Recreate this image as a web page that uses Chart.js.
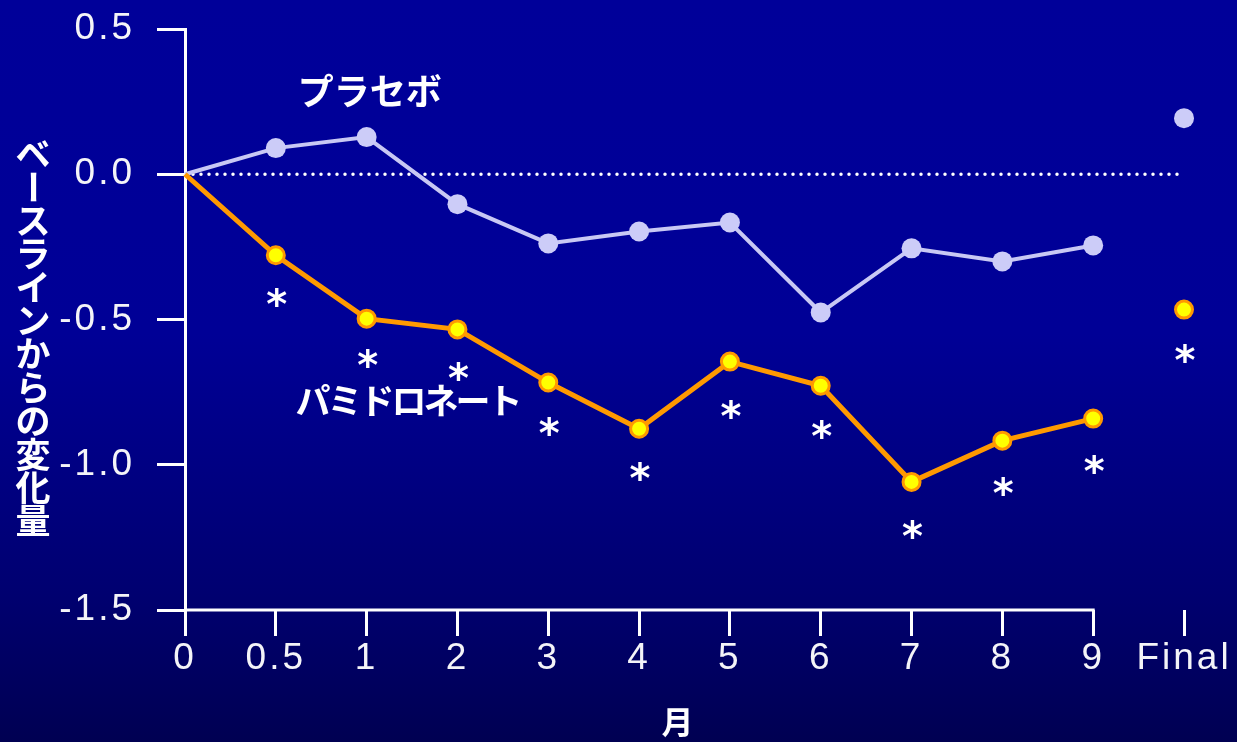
<!DOCTYPE html>
<html>
<head>
<meta charset="utf-8">
<script src="https://cdn.jsdelivr.net/npm/chart.js@4"></script>
<style>
  html, body { margin: 0; padding: 0; }
  #wrap {
    width: 1237px;
    height: 742px;
    position: relative;
    background: linear-gradient(to bottom, #000099 0%, #000096 45%, #000070 80%, #000052 100%);
  }
</style>
</head>
<body>
<div id="wrap"><canvas id="change"></canvas></div>
<script>
(function () {
  'use strict';

  // months on the x axis, 'Final' is the last visit
  const months = ['0', '0.5', '1', '2', '3', '4', '5', '6', '7', '8', '9', 'Final'];

  // change from baseline
  const placebo = [0, 0.09, 0.128, -0.103, -0.238, -0.197, -0.166, -0.476, -0.255, -0.3, -0.245, 0.193];
  const pamidronate = [0, -0.279, -0.497, -0.534, -0.717, -0.876, -0.645, -0.728, -1.059, -0.917, -0.841, -0.466];

  // where the significance marks sit (null = no mark)
  const starLevels = [null, -0.424, -0.634, -0.676, -0.866, -1.021, -0.807, -0.876, -1.221, -1.072, -0.997, -0.614];

  const yTitle = 'ベースラインからの変化量';
  const xTitle = '月';
  const seriesNames = ['プラセボ', 'パミドロネート'];
  // label anchors, in data units: [month index, value]
  const nameSpots = [[2.05, 0.29], [2.45, -0.778]];

  const jp = '"Noto Sans CJK JP", sans-serif';
  const num = '"Liberation Sans", Arial, sans-serif';
  const lastIdx = months.length - 1;

  // text centred on its ink box
  function inkText(ctx, text, x, y) {
    const m = ctx.measureText(text);
    const w = m.actualBoundingBoxRight + m.actualBoundingBoxLeft;
    const h = m.actualBoundingBoxAscent + m.actualBoundingBoxDescent;
    ctx.fillText(text, x - w / 2 + m.actualBoundingBoxLeft, y - h / 2 + m.actualBoundingBoxAscent);
  }

  const decorations = {
    id: 'decorations',
    beforeDraw(chart) {
      // wide tracking for the tick labels
      chart.ctx.letterSpacing = '3px';
    },
    beforeDatasetsDraw(chart) {
      const ctx = chart.ctx;
      const x = chart.scales.x;
      const y = chart.scales.y;
      const y0 = y.getPixelForValue(0);

      ctx.save();
      // dotted zero line
      ctx.strokeStyle = '#ffffff';
      ctx.lineWidth = 3.5;
      ctx.lineCap = 'round';
      ctx.setLineDash([0, 8]);
      ctx.beginPath();
      ctx.moveTo(chart.chartArea.left, y0);
      ctx.lineTo(chart.chartArea.right, y0);
      ctx.stroke();
      ctx.setLineDash([]);

      // x axis line runs only to month 9
      ctx.lineWidth = 3;
      ctx.lineCap = 'butt';
      ctx.beginPath();
      ctx.moveTo(chart.chartArea.left, chart.chartArea.bottom);
      ctx.lineTo(x.getPixelForValue(lastIdx - 1) + 1.5, chart.chartArea.bottom);
      ctx.stroke();
      ctx.restore();
    },
    afterDraw(chart) {
      const ctx = chart.ctx;
      const x = chart.scales.x;
      const y = chart.scales.y;
      const colW = x.getPixelForValue(1) - x.getPixelForValue(0);

      ctx.save();
      ctx.letterSpacing = '0px';
      ctx.fillStyle = '#ffffff';

      // significance marks
      ctx.font = 'bold 40px "DejaVu Sans", sans-serif';
      starLevels.forEach((v, i) => {
        if (v === null) return;
        inkText(ctx, '*', x.getPixelForValue(i) + 1, y.getPixelForValue(v));
      });

      // series names
      ctx.font = 'bold 36px ' + jp;
      inkText(ctx, seriesNames[0], x.getPixelForValue(0) + nameSpots[0][0] * colW, y.getPixelForValue(nameSpots[0][1]));
      ctx.font = 'bold 35px ' + jp;
      ctx.letterSpacing = '-3px';
      inkText(ctx, seriesNames[1], x.getPixelForValue(0) + nameSpots[1][0] * colW, y.getPixelForValue(nameSpots[1][1]));
      ctx.letterSpacing = '0px';

      // stacked vertical axis title
      ctx.font = 'bold 35px ' + jp;
      ctx.textAlign = 'center';
      ctx.textBaseline = 'middle';
      const step = 33.4;
      const top = 137;
      Array.from(yTitle).forEach((ch, i) => {
        const cy = top + step * (i + 0.5);
        if (ch === 'ー') {
          ctx.save();
          ctx.translate(33, cy);
          ctx.rotate(Math.PI / 2);
          ctx.fillText(ch, 0, 0);
          ctx.restore();
        } else {
          ctx.fillText(ch, 33, cy);
        }
      });

      // x axis title
      ctx.font = 'bold 32px ' + jp;
      inkText(ctx, xTitle, 675, 723);
      ctx.restore();
    }
  };

  window.onload = function () {
    const ctx = document.getElementById('change').getContext('2d');

    window.changeChart = new Chart(ctx, {
      type: 'line',
      data: {
        labels: months,
        datasets: [
          {
            label: seriesNames[0],
            data: placebo,
            borderColor: '#c8c8f4',
            borderWidth: 4,
            backgroundColor: '#ccccf8',
            pointBackgroundColor: '#ccccf8',
            pointBorderWidth: 0,
            pointRadius: (c) => (c.dataIndex === 0 ? 0 : 10),
            tension: 0,
            segment: {
              borderColor: (c) => (c.p1DataIndex === lastIdx ? 'transparent' : undefined)
            },
            order: 2
          },
          {
            label: seriesNames[1],
            data: pamidronate,
            borderColor: '#ff9900',
            borderWidth: 5,
            backgroundColor: '#ffff00',
            pointBackgroundColor: '#ffff00',
            pointBorderColor: '#ff9900',
            pointBorderWidth: 3,
            pointRadius: (c) => (c.dataIndex === 0 ? 0 : 8.5),
            tension: 0,
            segment: {
              borderColor: (c) => (c.p1DataIndex === lastIdx ? 'transparent' : undefined)
            },
            order: 1
          }
        ]
      },
      options: {
        responsive: true,
        maintainAspectRatio: false,
        animation: false,
        layout: { padding: { top: 29, right: 53, bottom: 0, left: 0 } },
        plugins: {
          legend: { display: false },
          tooltip: { enabled: false }
        },
        scales: {
          x: {
            type: 'category',
            offset: false,
            grid: { drawOnChartArea: false, drawTicks: true, tickLength: 26, color: '#ffffff', lineWidth: 3 },
            border: { display: false },
            ticks: {
              color: '#f4f4f8',
              font: { family: num, size: 37 },
              padding: 1,
              maxRotation: 0,
              autoSkip: false
            },
            afterFit(scale) { scale.height = 132; }
          },
          y: {
            min: -1.5,
            max: 0.5,
            grid: { drawOnChartArea: false, drawTicks: true, tickLength: 28, color: '#ffffff', lineWidth: 3 },
            border: { display: true, color: '#ffffff', width: 3 },
            ticks: {
              stepSize: 0.5,
              color: '#f4f4f8',
              font: { family: num, size: 37 },
              padding: 22,
              callback: (v) => v.toFixed(1)
            },
            afterFit(scale) {
              scale.width = 185;
              scale.paddingTop = 0;
              scale.paddingBottom = 0;
            }
          }
        }
      },
      plugins: [decorations]
    });
  };
})();
</script>
</body>
</html>
